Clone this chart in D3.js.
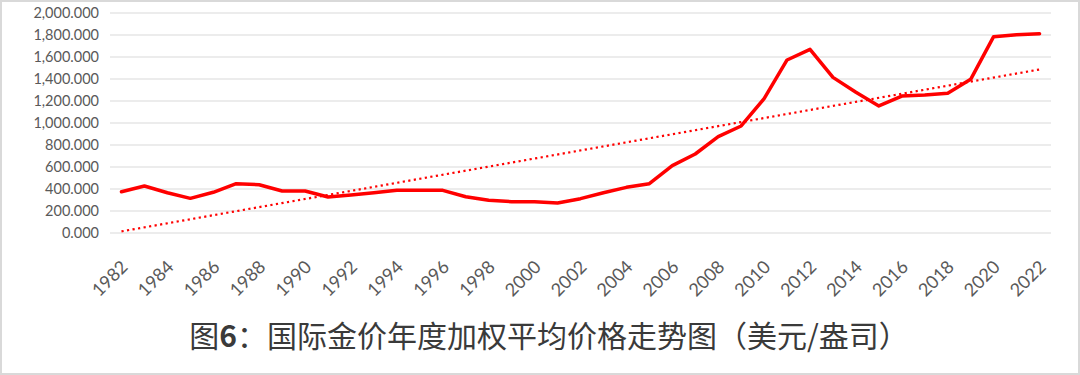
<!DOCTYPE html>
<html>
<head>
<meta charset="utf-8">
<script src="https://cdn.jsdelivr.net/npm/d3@7"></script>
<style>
  body { margin: 0; background: #fff; }
  svg { display: block; }
  .axis text { font-family: Lato, "Open Sans", sans-serif; fill: #595959; }
</style>
</head>
<body>
<div id="container"></div>
<script>
// Annual weighted average gold price, USD/oz
const years = d3.range(1982, 2023);
const prices = [
  375, 427, 366, 315, 370, 448, 439, 382, 382, 327,
  345, 366, 388, 388, 388, 330, 297, 285, 285, 273,
  312, 366, 415, 448, 612, 718, 876, 973, 1221, 1573,
  1670, 1415, 1279, 1155, 1245, 1255, 1270, 1397, 1785, 1803,
  1812
];
const yTicks = [0, 200, 400, 600, 800, 1000, 1200, 1400, 1600, 1800, 2000];
const xTickYears = d3.range(1982, 2023, 2);
const title = ['图', '6', '：国际金价年度加权平均价格走势图（美元/盎司）'];

const W = 1080, H = 375;
const margin = { top: 13, right: 29, bottom: 142, left: 110 };
const width = W - margin.left - margin.right,
  height = H - margin.top - margin.bottom;

const svg = d3.select('#container').append('svg')
  .attr('width', W)
  .attr('height', H);

// light frame round the picture
svg.append('rect')
  .attr('x', 1).attr('y', 1)
  .attr('width', W - 2).attr('height', H - 2)
  .attr('fill', '#fff')
  .attr('stroke', '#d9d9d9')
  .attr('stroke-width', 2);

const c = svg.append('g')
  .attr('transform', `translate(${margin.left},${margin.top})`);

const data = years.map((y, i) => ({ year: y, price: prices[i] }));

const xScale = d3.scalePoint().domain(years).range([0, width]).padding(0.5);
const yScale = d3.scaleLinear().domain([0, 2000]).range([height, 0]);

// gridlines
c.append('g')
  .selectAll('line')
  .data(yTicks)
  .join('line')
  .attr('x1', 0).attr('x2', width)
  .attr('y1', d => yScale(d)).attr('y2', d => yScale(d))
  .attr('stroke', '#d9d9d9')
  .attr('stroke-width', 1.2);

// y axis labels
const yAxis = c.append('g')
  .attr('class', 'axis')
  .call(d3.axisLeft(yScale).tickValues(yTicks).tickFormat(d3.format(',.3f')).tickSize(0).tickPadding(11));
yAxis.select('.domain').remove();
yAxis.selectAll('text').style('font-size', '14.5px');

// x axis labels, rotated
const xAxis = c.append('g')
  .attr('class', 'axis')
  .attr('transform', `translate(0, ${height})`)
  .call(d3.axisBottom(xScale).tickValues(xTickYears).tickSize(0));
xAxis.select('.domain').remove();
xAxis.selectAll('text')
  .style('font-size', '18px')
  .attr('text-anchor', 'end')
  .attr('dy', 0)
  .attr('y', 0)
  .attr('transform', 'translate(7, 35) rotate(-45)');

// linear trend line (least squares over the series)
const mx = d3.mean(data, d => d.year), my = d3.mean(data, d => d.price);
const slope = d3.sum(data, d => (d.year - mx) * (d.price - my)) /
  d3.sum(data, d => (d.year - mx) ** 2);
const trend = years.map(y => ({ year: y, price: my + slope * (y - mx) }));

const line = d3.line()
  .x(d => xScale(d.year))
  .y(d => yScale(d.price));

c.append('path')
  .datum([trend[0], trend[trend.length - 1]])
  .attr('d', line)
  .attr('fill', 'none')
  .attr('stroke', '#ff0000')
  .attr('stroke-width', 2.2)
  .attr('stroke-dasharray', '2.2,3.4');

c.append('path')
  .datum(data)
  .attr('d', line)
  .attr('fill', 'none')
  .attr('stroke', '#ff0000')
  .attr('stroke-width', 3.5)
  .attr('stroke-linejoin', 'round')
  .attr('stroke-linecap', 'round');

// caption
const t = svg.append('text')
  .attr('x', 549)
  .attr('y', 347)
  .attr('text-anchor', 'middle')
  .style('font-family', '"Noto Sans CJK SC", sans-serif')
  .style('font-size', '30px')
  .style('fill', '#3a3a3a');
t.selectAll('tspan')
  .data(title)
  .join('tspan')
  .style('font-weight', (d, i) => i === 1 ? 700 : 400)
  .text(d => d);
</script>
</body>
</html>
